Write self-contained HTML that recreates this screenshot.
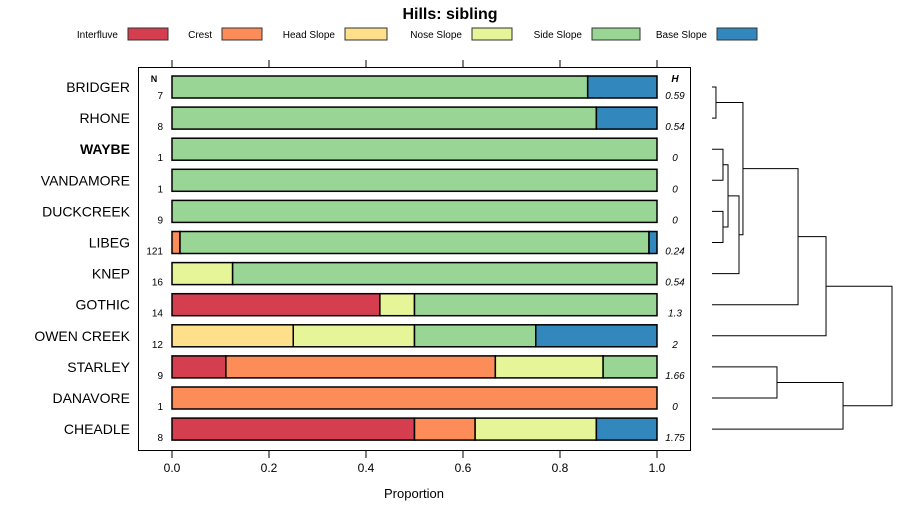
<!DOCTYPE html>
<html><head><meta charset="utf-8">
<style>
html,body{margin:0;padding:0;background:#fff;}
svg{display:block;font-family:"Liberation Sans",sans-serif;}
</style></head>
<body>
<svg id="chart" width="900" height="520" viewBox="0 0 900 520"></svg>
<script>
const categories = ["Interfluve","Crest","Head Slope","Nose Slope","Side Slope","Base Slope"];
const colors = ["#d53e4f","#fc8d59","#fee08b","#e6f598","#99d594","#3288bd"];
const rowNames = ["BRIDGER","RHONE","WAYBE","VANDAMORE","DUCKCREEK","LIBEG","KNEP","GOTHIC","OWEN CREEK","STARLEY","DANAVORE","CHEADLE"];
const nValues = [7,8,1,1,9,121,16,14,12,9,1,8];
const hLabels = ["0.59","0.54","0","0","0","0.24","0.54","1.3","2","1.66","0","1.75"];
const interfluve = [0,0,0,0,0,0,0,0.4286,0,0.1111,0,0.5];
const crest      = [0,0,0,0,0,0.0165,0,0,0,0.5556,1,0.125];
const headSlope  = [0,0,0,0,0,0,0,0,0.25,0,0,0];
const noseSlope  = [0,0,0,0,0,0,0.125,0.0714,0.25,0.2222,0,0.25];
const sideSlope  = [0.8571,0.875,1,1,1,0.967,0.875,0.5,0.25,0.1111,0,0];
const baseSlope  = [0.1429,0.125,0,0,0,0.0165,0,0,0.25,0,0,0.125];
const xTicks = [0,0.2,0.4,0.6,0.8,1.0];
const xTickLabels = ["0.0","0.2","0.4","0.6","0.8","1.0"];
// dendrogram merges: [leftNode,rightNode,height]; leaves 0..11, merged nodes 12+
const merges = [[0,1,0.044],[2,3,0.122],[4,5,0.122],[13,14,0.178],[15,6,0.3],[12,16,0.344],[17,7,0.956],[18,8,1.267],[9,10,0.722],[20,11,1.456],[19,21,2.0]];

const NS="http://www.w3.org/2000/svg";
const svg=document.getElementById('chart');
function el(tag,attrs,parent){const e=document.createElementNS(NS,tag);for(const k in attrs)e.setAttribute(k,attrs[k]);(parent||svg).appendChild(e);return e;}
const xs=v=>172+v*485;
const ys=i=>87+i*31.1;

let t=el('text',{x:450,y:19,'text-anchor':'middle','font-size':16,'font-weight':'bold',fill:'#000'});


t.textContent='Hills: sibling';

// legend
const legBox=[128,222,345,472,592,717];
const legW=[40,40,42,40,48,40];
categories.forEach((c,i)=>{
  const g=el('g',{});
  
  
  const tx=el('text',{x:legBox[i]-10,y:38,'text-anchor':'end','font-size':10,fill:'#000'},g);
  tx.textContent=c;
  el('rect',{x:legBox[i],y:28,width:legW[i],height:12,fill:colors[i],stroke:'#333','stroke-width':1},g);
});

// panel
const panel=el('rect',{x:138.5,y:67.5,width:552,height:383,fill:'none',stroke:'#000','stroke-width':1});



xTicks.forEach((v,i)=>{
  el('line',{x1:xs(v),x2:xs(v),y1:60,y2:67,stroke:'#000'});
  el('line',{x1:xs(v),x2:xs(v),y1:451,y2:458,stroke:'#000'});
  const l=el('text',{x:xs(v),y:472,'text-anchor':'middle','font-size':12,fill:'#000'});
  
  
  l.textContent=xTickLabels[i];
});
t=el('text',{x:414,y:498,'text-anchor':'middle','font-size':13,fill:'#000'});


t.textContent='Proportion';

t=el('text',{x:154,y:82,'text-anchor':'middle','font-size':9,'font-weight':'bold'});t.textContent='N';

t=el('text',{x:675,y:82,'text-anchor':'middle','font-size':10,'font-weight':'bold','font-style':'italic'});t.textContent='H';


const series=[interfluve,crest,headSlope,noseSlope,sideSlope,baseSlope];
rowNames.forEach((name,i)=>{
  const cy=ys(i);
  const lab=el('text',{x:130,y:cy+5,'text-anchor':'end','font-size':14,fill:'#000','font-weight':name==='WAYBE'?'bold':'normal'});
  
  
  lab.textContent=name;
  const n=el('text',{x:163,y:cy+12,'text-anchor':'end','font-size':10,fill:'#000'});
  
  
  n.textContent=nValues[i];
  const h=el('text',{x:675,y:cy+12,'text-anchor':'middle','font-size':10,'font-style':'italic',fill:'#000'});
  
  
  h.textContent=hLabels[i];
  let cum=0;
  series.forEach((s,k)=>{
    const v=s[i];
    if(v>0){
      const r=el('rect',{x:xs(cum),y:cy-11,width:xs(cum+v)-xs(cum),height:22,fill:colors[k],stroke:'#000','stroke-width':1.5});
      
      
    }
    cum+=v;
  });
});

// dendrogram
const dx=h=>712+h*90;
const pos={};
for(let i=0;i<12;i++)pos[i]={y:ys(i),h:0};
const dg=el('g',{stroke:'#000','stroke-width':1,fill:'none'});


merges.forEach((m,j)=>{
  const a=pos[m[0]],b=pos[m[1]],hx=dx(m[2]);
  el('path',{d:`M${dx(a.h)},${a.y}H${hx}V${b.y}H${dx(b.h)}`},dg);
  pos[12+j]={y:(a.y+b.y)/2,h:m[2]};
});
</script>
</body></html>
